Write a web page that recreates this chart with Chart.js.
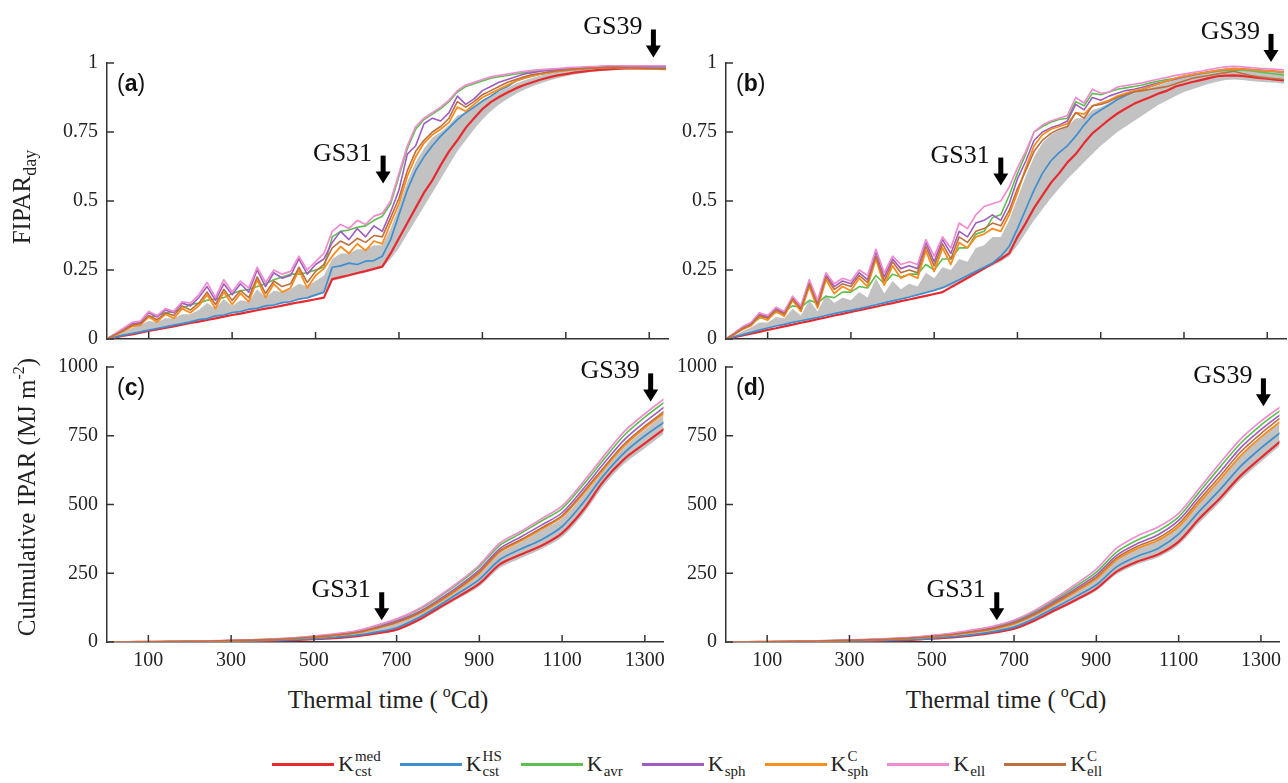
<!DOCTYPE html>
<html>
<head>
<meta charset="utf-8">
<script src="https://cdn.jsdelivr.net/npm/chart.js@4.4.1/dist/chart.umd.min.js"></script>
<style>
  body { margin: 0; background: #fff; width: 1288px; height: 783px; overflow: hidden; position: relative;
         font-family: 'Liberation Serif', Tinos, 'Times New Roman', 'DejaVu Serif', serif; color: #222; }
  canvas { position: absolute; }
  .ytitle, .xtitle { position: absolute; white-space: nowrap; font-size: 25px; line-height: 28px; }
  .ytitle { transform: translate(-50%, -50%) rotate(-90deg); }
  .xtitle { transform: translate(-50%, -50%); }
  .ytitle sub { font-size: 18px; }
  sup { font-size: 16px; vertical-align: 11px; line-height: 0; }
  #legend { position: absolute; left: 272px; top: 749px; display: flex; align-items: center; gap: 19px; }
  .item { display: flex; align-items: center; }
  .swatch { width: 62px; height: 3px; margin-right: 4px; }
  .k { font-size: 22px; }
  .ss { display: inline-flex; flex-direction: column; font-size: 15px; line-height: 15px; margin-left: 1px; }
</style>
</head>
<body>
<canvas id="pa" width="672" height="360" style="left:0;top:0"></canvas>
<canvas id="pb" width="668" height="360" style="left:620px;top:0"></canvas>
<canvas id="pc" width="672" height="336" style="left:0;top:346px"></canvas>
<canvas id="pd" width="668" height="336" style="left:620px;top:346px"></canvas>

<div class="ytitle" style="left:26px;top:197px">FIPAR<sub>day</sub></div>
<div class="ytitle" style="left:27px;top:497px">Culmulative IPAR (MJ m<sup>-2</sup>)</div>
<div class="xtitle" style="left:388px;top:700px">Thermal time (&thinsp;<sup>o</sup>Cd)</div>
<div class="xtitle" style="left:1006px;top:700px">Thermal time (&thinsp;<sup>o</sup>Cd)</div>
<div id="legend"></div>

<script>
// daily thermal time grid (degree-days) for the FIPAR panels
var thermalTime = [
  0, 20, 40, 60, 80, 100, 120, 140, 160, 180,
  200, 220, 240, 260, 280, 300, 320, 340, 360, 380,
  400, 420, 440, 460, 480, 500, 520, 540, 560, 580,
  600, 620, 640, 660, 680, 700, 720, 740, 760, 780,
  800, 820, 840, 860, 880, 900, 920, 940, 960, 980,
  1000, 1020, 1040, 1060, 1080, 1100, 1120, 1140, 1160, 1180,
  1200, 1220, 1240, 1260, 1280, 1300, 1320, 1340];

// coarser grid for the cumulative panels
var cumTime = [0, 50, 100, 150, 200, 250, 300, 350, 400, 450, 500, 550, 600, 650,
  700, 750, 800, 850, 900, 950, 1000, 1050, 1100, 1150, 1200, 1250, 1300, 1350];

var xTickValues = [100, 300, 500, 700, 900, 1100, 1300];
var fiparTicks = [0, 0.25, 0.5, 0.75, 1];
var ipaTicks = [0, 250, 500, 750, 1000];

// legend order: Kcst^med, Kcst^HS, Kavr, Ksph, Ksph^C, Kell, Kell^C
var legendSup = ['med', 'HS', '', '', 'C', '', 'C'];
var legendSub = ['cst', 'cst', 'avr', 'sph', 'sph', 'ell', 'ell'];
var seriesColors = ['#e8292e', '#3d8fd1', '#5cbf4e', '#9e5cc0', '#fb8c1e', '#f08bd0', '#bd6f3d'];
var seriesWidths = [2.2, 1.7, 1.6, 1.6, 1.8, 1.7, 1.6];
var drawOrder = [7, 6, 5, 4, 3, 2, 1];
var bandColor = '#c2c2c2';
var axisColor = '#333';
var serif = "'Liberation Serif', Tinos, 'Times New Roman', 'DejaVu Serif', serif";

// ---- panel (a): FIPAR, season 1 ----
var aRed = [
  0, .006, .012, .017, .023, .029, .035, .040, .046, .052,
  .058, .063, .069, .075, .081, .087, .092, .098, .104, .110,
  .115, .121, .127, .133, .138, .144, .150, .217, .224, .231,
  .239, .246, .254, .262, .31, .365, .42, .475, .53, .575,
  .63, .68, .72, .765, .80, .833, .858, .877, .893, .908,
  .92, .93, .94, .948, .955, .96, .965, .969, .972, .975,
  .977, .979, .98, .98, .98, .98, .98, .98];
var aBlue = [
  0, .007, .014, .020, .026, .032, .038, .044, .050, .056,
  .062, .070, .074, .084, .087, .096, .099, .108, .111, .120,
  .123, .132, .135, .145, .149, .160, .170, .26, .265, .275,
  .27, .282, .284, .30, .36, .45, .54, .61, .66, .70,
  .735, .765, .795, .82, .84, .862, .88, .90, .915, .935,
  .945, .953, .96, .965, .97, .973, .976, .978, .98, .982,
  .983, .984, .985, .986, .987, .987, .987, .987];
var aGreen = [
  0, .018, .035, .05, .06, .08, .085, .095, .10, .11,
  .125, .13, .14, .145, .15, .165, .175, .18, .19, .20,
  .215, .225, .235, .235, .24, .25, .26, .37, .39, .395,
  .405, .41, .43, .445, .49, .59, .69, .76, .795, .815,
  .835, .86, .895, .915, .925, .935, .945, .95, .955, .96,
  .965, .97, .973, .976, .978, .98, .982, .984, .985, .986,
  .987, .988, .988, .988, .988, .988, .988, .988];
var aPurple = [
  0, .018, .036, .055, .06, .095, .08, .105, .095, .13,
  .12, .15, .19, .14, .20, .16, .20, .17, .25, .19,
  .24, .22, .23, .29, .235, .27, .29, .35, .39, .36,
  .40, .37, .41, .39, .46, .54, .67, .70, .78, .80,
  .79, .82, .88, .85, .87, .90, .915, .93, .94, .95,
  .96, .965, .97, .973, .976, .978, .98, .983, .985, .987,
  .988, .988, .988, .988, .988, .988, .988, .988];
var aOrange = [
  0, .014, .028, .045, .05, .08, .062, .09, .075, .11,
  .095, .12, .16, .11, .17, .125, .165, .135, .215, .15,
  .20, .17, .185, .25, .185, .23, .255, .30, .335, .31,
  .345, .32, .355, .345, .42, .49, .59, .66, .71, .74,
  .76, .785, .84, .825, .85, .875, .89, .905, .92, .935,
  .945, .953, .96, .965, .97, .973, .976, .979, .981, .982,
  .983, .983, .982, .981, .98, .979, .978, .977];
var aPink = [
  0, .02, .04, .06, .065, .10, .085, .11, .10, .135,
  .13, .16, .205, .15, .215, .17, .21, .185, .26, .205,
  .25, .235, .245, .30, .25, .28, .31, .39, .415, .40,
  .43, .415, .445, .455, .50, .60, .70, .77, .80, .82,
  .84, .865, .90, .92, .93, .94, .95, .955, .96, .965,
  .97, .973, .976, .978, .98, .982, .984, .985, .987, .988,
  .99, .99, .99, .99, .99, .99, .99, .99];
var aBrown = [
  0, .016, .032, .05, .055, .085, .07, .095, .085, .12,
  .105, .13, .17, .125, .18, .14, .175, .15, .225, .165,
  .21, .19, .20, .26, .205, .245, .27, .33, .355, .34,
  .365, .35, .375, .37, .44, .51, .61, .68, .72, .75,
  .77, .80, .86, .84, .86, .885, .90, .915, .93, .94,
  .95, .958, .963, .968, .972, .975, .978, .98, .982, .983,
  .984, .984, .983, .982, .981, .98, .979, .978];
var aBandLow = [
  0, .007, .013, .019, .025, .031, .037, .043, .049, .055,
  .061, .067, .073, .08, .086, .092, .098, .104, .11, .116,
  .122, .128, .134, .14, .148, .155, .165, .21, .218, .226,
  .234, .242, .25, .258, .29, .33, .38, .43, .48, .53,
  .58, .63, .68, .72, .76, .795, .825, .85, .87, .888,
  .903, .916, .927, .937, .945, .952, .958, .963, .967, .97,
  .973, .975, .976, .977, .977, .977, .977, .977];
var aBandHigh = [
  0, .013, .026, .04, .05, .065, .062, .075, .075, .09,
  .09, .105, .13, .11, .145, .12, .14, .135, .18, .15,
  .175, .17, .18, .20, .19, .21, .23, .29, .31, .31,
  .325, .325, .34, .34, .40, .48, .57, .64, .69, .73,
  .75, .775, .81, .82, .845, .865, .88, .895, .91, .925,
  .937, .947, .955, .962, .967, .971, .975, .978, .98, .982,
  .983, .984, .984, .984, .984, .984, .984, .984];

// ---- panel (b): FIPAR, season 2 ----
var bRed = [
  0, .0065, .013, .0196, .026, .033, .039, .046, .052, .059,
  .065, .072, .078, .085, .091, .098, .104, .111, .117, .124,
  .130, .137, .143, .150, .156, .163, .170, .187, .204, .221,
  .238, .256, .273, .290, .31, .37, .42, .475, .52, .565,
  .60, .64, .67, .71, .745, .77, .795, .817, .835, .852,
  .865, .877, .89, .90, .915, .923, .931, .938, .945, .952,
  .954, .955, .953, .95, .946, .943, .94, .937];
var bBlue = [
  0, .008, .016, .024, .032, .040, .047, .053, .060, .066,
  .072, .078, .085, .092, .098, .104, .110, .117, .124, .131,
  .138, .145, .152, .160, .168, .176, .186, .20, .215, .23,
  .245, .26, .275, .30, .335, .40, .47, .54, .60, .645,
  .675, .70, .735, .775, .81, .83, .848, .868, .882, .895,
  .905, .915, .925, .935, .943, .95, .956, .962, .967, .972,
  .976, .978, .978, .976, .974, .972, .97, .967];
var bGreen = [
  0, .02, .04, .055, .075, .085, .095, .10, .12, .115,
  .14, .13, .155, .15, .17, .17, .19, .185, .23, .20,
  .235, .225, .235, .235, .27, .25, .29, .29, .33, .33,
  .38, .39, .44, .45, .52, .60, .67, .75, .77, .785,
  .795, .80, .86, .845, .89, .885, .895, .905, .91, .915,
  .92, .928, .935, .94, .945, .952, .958, .962, .966, .97,
  .973, .975, .974, .972, .968, .964, .96, .957];
var bPurple = [
  0, .02, .042, .056, .09, .08, .11, .095, .15, .115,
  .21, .133, .232, .19, .21, .20, .24, .215, .315, .225,
  .29, .255, .265, .255, .35, .28, .36, .31, .39, .37,
  .42, .43, .45, .43, .49, .58, .645, .72, .75, .765,
  .775, .79, .85, .83, .875, .865, .88, .89, .90, .905,
  .912, .92, .928, .935, .942, .95, .957, .963, .968, .973,
  .977, .98, .978, .976, .974, .972, .97, .968];
var bOrange = [
  0, .016, .035, .048, .08, .068, .10, .083, .14, .10,
  .19, .112, .215, .165, .19, .175, .22, .19, .29, .195,
  .265, .22, .235, .22, .32, .245, .33, .27, .35, .33,
  .37, .38, .40, .39, .45, .53, .62, .70, .74, .76,
  .77, .78, .82, .815, .845, .855, .865, .88, .89, .90,
  .905, .915, .925, .935, .945, .952, .958, .963, .968, .973,
  .977, .98, .978, .976, .974, .972, .97, .967];
var bPink = [
  0, .022, .045, .06, .095, .085, .115, .10, .155, .12,
  .215, .14, .24, .20, .22, .21, .25, .23, .325, .24,
  .30, .27, .28, .27, .36, .30, .37, .33, .42, .40,
  .45, .48, .49, .50, .55, .62, .68, .75, .775, .79,
  .80, .81, .875, .855, .905, .89, .895, .913, .918, .923,
  .928, .935, .942, .948, .955, .96, .965, .97, .976, .982,
  .986, .988, .986, .983, .981, .979, .977, .975];
var bBrown = [
  0, .018, .038, .052, .085, .075, .105, .09, .145, .108,
  .20, .122, .225, .18, .20, .19, .23, .205, .30, .21,
  .28, .24, .25, .24, .335, .265, .345, .29, .37, .35,
  .39, .40, .42, .41, .465, .545, .61, .68, .72, .745,
  .76, .77, .82, .80, .845, .85, .86, .875, .885, .895,
  .90, .905, .91, .915, .925, .935, .945, .95, .955, .96,
  .965, .97, .962, .955, .95, .946, .943, .94];
var bBandLow = [
  0, .008, .016, .024, .032, .039, .046, .053, .059, .065,
  .071, .077, .084, .091, .097, .103, .109, .116, .123, .13,
  .137, .144, .151, .159, .167, .175, .182, .19, .205, .22,
  .235, .25, .265, .28, .30, .34, .385, .43, .47, .51,
  .545, .58, .61, .64, .67, .70, .725, .75, .77, .79,
  .81, .83, .85, .865, .88, .895, .905, .915, .925, .932,
  .938, .94, .938, .935, .932, .93, .928, .925];
var bBandHigh = [
  0, .012, .028, .042, .06, .06, .08, .075, .11, .085,
  .14, .10, .16, .13, .15, .14, .17, .15, .22, .165,
  .21, .18, .20, .19, .24, .22, .26, .25, .29, .28,
  .33, .34, .37, .37, .43, .51, .59, .66, .71, .74,
  .755, .77, .80, .80, .83, .84, .855, .87, .88, .89,
  .90, .91, .92, .93, .94, .948, .955, .96, .965, .97,
  .975, .978, .977, .975, .974, .972, .97, .968];

// ---- panel (c): cumulative IPAR, season 1 ----
var cRed = [0, 0, 0.3, 0.7, 1.2, 1.8, 2.6, 3.6, 5, 7, 10, 14, 20, 31,
  45, 78, 122, 166, 212, 283, 318, 350, 396, 478, 585, 665, 722, 778];
var cBlue = [0, 0, 0.4, 0.9, 1.5, 2.2, 3.1, 4.3, 6, 8.3, 12, 17, 24, 36,
  52, 86, 130, 178, 228, 300, 338, 372, 420, 505, 605, 688, 750, 803];
var cGreen = [0, 0.1, 0.8, 1.6, 2.7, 4, 5.6, 7.6, 10.4, 14.4, 20.5, 28, 38, 58,
  82, 115, 161, 213, 274, 352, 395, 440, 485, 570, 663, 752, 818, 875];
var cPurple = [0, 0.1, 0.7, 1.5, 2.5, 3.7, 5.2, 7.1, 9.7, 13.4, 19, 26, 35.5, 53,
  76, 107, 152, 203, 262, 340, 382, 425, 470, 555, 648, 735, 800, 858];
var cOrange = [0, 0.1, 0.6, 1.3, 2.2, 3.3, 4.6, 6.3, 8.6, 12, 17, 23.5, 32, 49,
  70, 100, 143, 193, 250, 327, 367, 410, 455, 537, 627, 713, 778, 836];
var cPink = [0, 0.1, 0.8, 1.7, 2.8, 4.2, 5.9, 8, 11, 15, 21.5, 29.5, 40, 60,
  84, 118, 165, 218, 280, 360, 402, 448, 495, 580, 675, 765, 830, 888];
var cBrown = [0, 0.1, 0.6, 1.4, 2.3, 3.5, 4.9, 6.7, 9.1, 12.6, 18, 25, 34, 51,
  72, 103, 147, 197, 255, 332, 372, 415, 460, 543, 634, 720, 785, 842];
var cBandLow = [0, 0, 0.2, 0.6, 1, 1.6, 2.3, 3.2, 4.5, 6.3, 9, 13, 18.5, 28,
  41, 72, 115, 158, 202, 270, 305, 338, 382, 462, 567, 648, 705, 762];
var cBandHigh = [0, 0.1, 0.6, 1.3, 2.2, 3.3, 4.6, 6.3, 8.6, 12, 17, 23.5, 32, 48,
  68, 98, 140, 190, 247, 323, 363, 406, 450, 532, 622, 708, 773, 832];

// ---- panel (d): cumulative IPAR, season 2 ----
var dRed = [0, 0, 0.3, 0.8, 1.4, 2.1, 3, 4.2, 5.8, 8, 12, 17, 24, 34,
  48, 78, 116, 153, 194, 257, 293, 318, 365, 448, 522, 604, 670, 733];
var dBlue = [0, 0, 0.4, 1, 1.7, 2.6, 3.6, 5, 6.8, 9.3, 13.5, 19, 27, 38,
  54, 86, 125, 165, 208, 274, 312, 340, 392, 475, 553, 638, 705, 765];
var dGreen = [0, 0.2, 0.9, 1.9, 3.2, 4.9, 6.8, 9.2, 12.3, 16.2, 23, 31, 42, 55,
  76, 110, 154, 202, 254, 328, 371, 404, 455, 545, 635, 722, 789, 845];
var dPurple = [0, 0.1, 0.8, 1.7, 3, 4.5, 6.3, 8.6, 11.5, 15.2, 21.5, 29, 39, 52,
  72, 105, 148, 194, 244, 316, 358, 390, 442, 530, 617, 705, 772, 830];
var dOrange = [0, 0.1, 0.7, 1.5, 2.6, 4, 5.6, 7.6, 10.2, 13.5, 19, 26, 35, 47,
  66, 98, 139, 183, 230, 300, 340, 370, 420, 507, 590, 676, 745, 805];
var dPink = [0, 0.2, 0.9, 2, 3.4, 5.1, 7.1, 9.6, 12.8, 16.9, 24, 32.5, 44, 58,
  80, 115, 160, 210, 265, 342, 386, 418, 468, 558, 650, 737, 803, 858];
var dBrown = [0, 0.1, 0.7, 1.6, 2.8, 4.2, 5.9, 8, 10.8, 14.2, 20, 27.5, 37, 49.5,
  69, 101, 143, 188, 236, 307, 348, 378, 430, 517, 602, 690, 758, 818];
var dBandLow = [0, 0, 0.2, 0.7, 1.2, 1.9, 2.8, 3.9, 5.4, 7.5, 11, 16, 22.5, 32,
  45, 73, 110, 146, 186, 247, 283, 308, 353, 433, 507, 589, 655, 718];
var dBandHigh = [0, 0.1, 0.7, 1.5, 2.6, 4, 5.6, 7.6, 10.2, 13.5, 19, 26, 35, 47,
  66, 98, 139, 183, 230, 300, 340, 372, 422, 508, 592, 680, 748, 808];

// growth stage markers (thermal time, value at arrow tip)
var stagesA = [{ label: 'GS31', t: 662, y: 0.563 }, { label: 'GS39', t: 1310, y: 1.02 }];
var stagesB = [{ label: 'GS31', t: 660, y: 0.556 }, { label: 'GS39', t: 1309, y: 1.004 }];
var stagesC = [{ label: 'GS31', t: 664, y: 79 }, { label: 'GS39', t: 1314, y: 875 }];
var stagesD = [{ label: 'GS31', t: 658, y: 79 }, { label: 'GS39', t: 1306, y: 857 }];

function pts(xs, ys) {
  return ys.map(function (y, i) { return { x: xs[i], y: y }; });
}

function buildSets(xs, lines, low, high, tension) {
  var sets = [
    { data: pts(xs, low), borderWidth: 0, pointRadius: 0, fill: false, order: 20, tension: tension },
    { data: pts(xs, high), borderWidth: 0, pointRadius: 0, fill: '-1', backgroundColor: bandColor, order: 19, tension: tension }
  ];
  lines.forEach(function (ys, k) {
    sets.push({ data: pts(xs, ys), borderColor: seriesColors[k], borderWidth: seriesWidths[k],
      pointRadius: 0, fill: false, order: drawOrder[k], tension: tension, borderJoinStyle: 'round' });
  });
  return sets;
}

/** Inward ticks, panel letter and growth stage arrows */
var decorPlugin = {
  id: 'decor',
  afterDraw: function (chart, args, o) {
    var ctx = chart.ctx, a = chart.chartArea, xs = chart.scales.x, ys = chart.scales.y;
    ctx.save();
    ctx.strokeStyle = axisColor;
    ctx.lineWidth = 1.5;
    xs.ticks.forEach(function (t) {
      var px = xs.getPixelForValue(t.value);
      ctx.beginPath(); ctx.moveTo(px, a.bottom); ctx.lineTo(px, a.bottom - 7); ctx.stroke();
    });
    ys.ticks.forEach(function (t) {
      var py = ys.getPixelForValue(t.value);
      ctx.beginPath(); ctx.moveTo(a.left, py); ctx.lineTo(a.left + 7, py); ctx.stroke();
    });

    // panel letter, e.g. "(a)" with a bold letter
    var lx = a.left + 10, ly = a.top + 22;
    ctx.fillStyle = '#111';
    ctx.textBaseline = 'middle';
    ctx.textAlign = 'left';
    ctx.font = "23px 'Liberation Sans', Arial, sans-serif";
    ctx.fillText('(', lx, ly);
    lx += ctx.measureText('(').width;
    ctx.font = "bold 23px 'Liberation Sans', Arial, sans-serif";
    ctx.fillText(o.letter, lx, ly);
    lx += ctx.measureText(o.letter).width;
    ctx.font = "23px 'Liberation Sans', Arial, sans-serif";
    ctx.fillText(')', lx, ly);

    // growth stage arrows
    o.stages.forEach(function (s) {
      var px = xs.getPixelForValue(s.t), tip = ys.getPixelForValue(s.y);
      var top = tip - 28;
      ctx.fillStyle = '#000';
      ctx.fillRect(px - 2.5, top, 5, 17);
      ctx.beginPath();
      ctx.moveTo(px - 7.5, tip - 12);
      ctx.lineTo(px + 7.5, tip - 12);
      ctx.lineTo(px, tip);
      ctx.closePath();
      ctx.fill();
      ctx.fillStyle = '#111';
      ctx.font = '26px ' + serif;
      ctx.textAlign = 'right';
      ctx.textBaseline = 'alphabetic';
      ctx.fillText(s.label, px - 11, top + 5);
    });
    ctx.restore();
  }
};

function makePanel(id, p) {
  var tickFont = { family: serif, size: 20 };
  return new Chart(document.getElementById(id), {
    type: 'line',
    data: { datasets: buildSets(p.xs, p.lines, p.low, p.high, p.tension) },
    plugins: [decorPlugin],
    options: {
      responsive: false,
      animation: false,
      events: [],
      layout: { padding: { left: 0, right: p.padRight, top: p.padTop, bottom: 0 } },
      plugins: {
        legend: { display: false },
        tooltip: { enabled: false },
        decor: { letter: p.letter, stages: p.stages }
      },
      scales: {
        x: {
          type: 'linear', min: 0, max: 1345,
          grid: { display: false, drawTicks: false },
          border: { display: true, color: axisColor, width: 1.5 },
          ticks: { display: p.showX, font: tickFont, color: '#222', padding: 7,
            callback: function (v) { return String(v); } },
          afterBuildTicks: function (s) { s.ticks = xTickValues.map(function (v) { return { value: v }; }); },
          afterFit: function (s) { s.height = p.xHeight; }
        },
        y: {
          type: 'linear', min: p.yMin, max: p.yMax,
          grid: { display: false, drawTicks: false },
          border: { display: true, color: axisColor, width: 1.5 },
          ticks: { font: tickFont, color: '#222', padding: 9,
            callback: function (v) { return String(v); } },
          afterBuildTicks: function (s) { s.ticks = p.yTicks.map(function (v) { return { value: v }; }); },
          afterFit: function (s) { s.width = p.yWidth; }
        }
      }
    }
  });
}

function drawAll() {
  makePanel('pa', { xs: thermalTime, lines: [aRed, aBlue, aGreen, aPurple, aOrange, aPink, aBrown],
    low: aBandLow, high: aBandHigh, tension: 0, letter: 'a', stages: stagesA,
    yMin: 0, yMax: 1, yTicks: fiparTicks, yWidth: 107, padRight: 4, padTop: 63, xHeight: 18, showX: false });
  makePanel('pb', { xs: thermalTime, lines: [bRed, bBlue, bGreen, bPurple, bOrange, bPink, bBrown],
    low: bBandLow, high: bBandHigh, tension: 0, letter: 'b', stages: stagesB,
    yMin: 0, yMax: 1, yTicks: fiparTicks, yWidth: 106, padRight: 2, padTop: 63, xHeight: 18, showX: false });
  makePanel('pc', { xs: cumTime, lines: [cRed, cBlue, cGreen, cPurple, cOrange, cPink, cBrown],
    low: cBandLow, high: cBandHigh, tension: 0.3, letter: 'c', stages: stagesC,
    yMin: 0, yMax: 1000, yTicks: ipaTicks, yWidth: 107, padRight: 4, padTop: 17, xHeight: 40, showX: true });
  makePanel('pd', { xs: cumTime, lines: [dRed, dBlue, dGreen, dPurple, dOrange, dPink, dBrown],
    low: dBandLow, high: dBandHigh, tension: 0.3, letter: 'd', stages: stagesD,
    yMin: 0, yMax: 1000, yTicks: ipaTicks, yWidth: 106, padRight: 2, padTop: 17, xHeight: 40, showX: true });
}

// legend with sub/superscripted K labels
var legend = document.getElementById('legend');
seriesColors.forEach(function (c, k) {
  var item = document.createElement('div');
  item.className = 'item';
  item.innerHTML = '<div class="swatch" style="background:' + c + '"></div>' +
    '<span class="k">K</span><span class="ss"><span>' + (legendSup[k] || '&nbsp;') + '</span><span>' +
    legendSub[k] + '</span></span>';
  legend.appendChild(item);
});

// make sure the serif face is loaded before the canvases draw text
if (document.fonts && document.fonts.load) {
  Promise.all([
    document.fonts.load("20px 'Liberation Serif'"),
    document.fonts.load("bold 23px 'Liberation Sans'")
  ]).then(drawAll, drawAll);
} else {
  drawAll();
}
</script>
</body>
</html>
